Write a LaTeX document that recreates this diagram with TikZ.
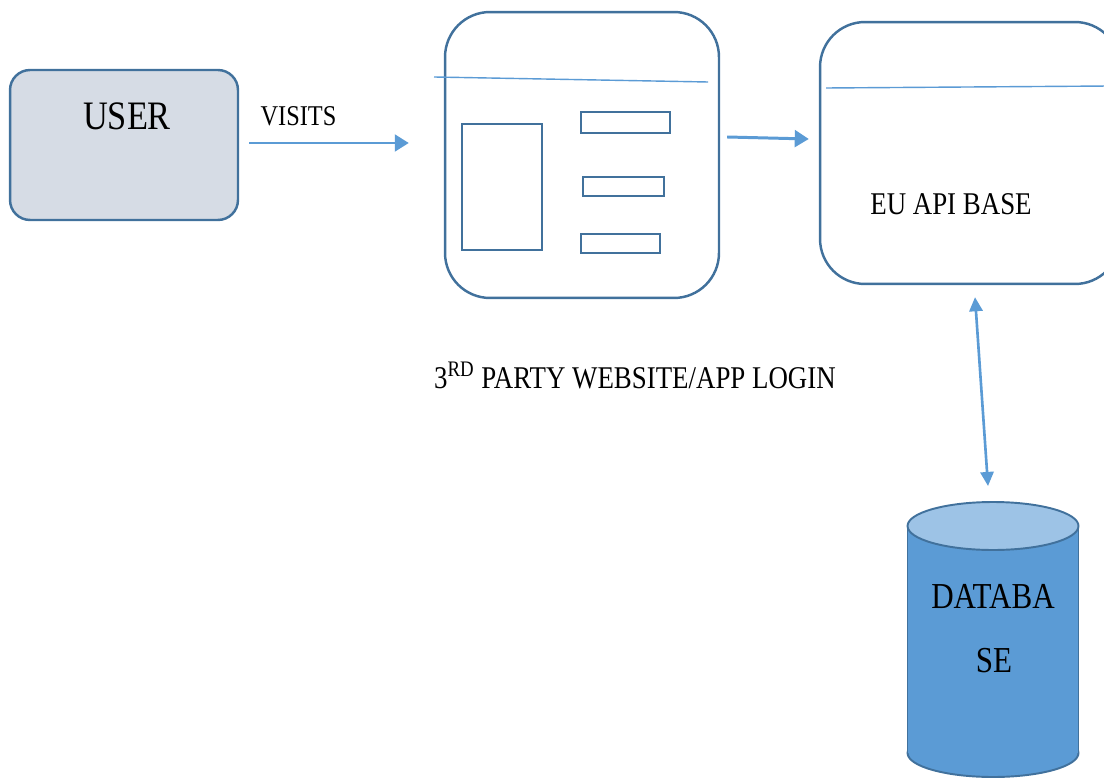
\documentclass[tikz,border=0pt]{standalone}
\usepackage{fontspec}
\setmainfont{Liberation Serif}
\newfontfamily\condfont[FakeStretch=0.85]{Liberation Serif}
\usetikzlibrary{arrows.meta,calc}
\definecolor{bord}{HTML}{41719C}
\definecolor{arrc}{HTML}{5B9BD5}
\definecolor{userfill}{HTML}{D6DCE5}
\definecolor{dbbody}{HTML}{5B9BD5}
\definecolor{dbtop}{HTML}{9DC3E6}
\tikzset{
  box/.style={draw=bord, line width=1.4pt, rounded corners=#1},
  inrect/.style={draw=bord, line width=1.1pt, inner sep=0pt},
  hline/.style={draw=arrc, line width=0.8pt},
  arr/.style={draw=arrc, line width=1.7pt, -{Triangle[length=8pt,width=9.5pt]}},
  darr/.style={draw=arrc, line width=1.5pt, {Triangle[length=8pt,width=7.5pt]}-{Triangle[length=8pt,width=7.5pt]}},
  lbl/.style={anchor=base, inner sep=0pt, text=black},
}
\newcommand{\fsz}[1]{\condfont\fontsize{#1}{#1}\selectfont}
\begin{document}
\begin{tikzpicture}[x=0.02cm,y=-0.02cm]
\useasboundingbox (0,0) rectangle (1104,780);
\clip (0,0) rectangle (1104,780);
% boxes
\node[box=0.4cm, fill=userfill, minimum width=4.56cm, minimum height=3cm] (user) at (124,145) {};
\node[box=0.9cm, fill=white, minimum width=5.48cm, minimum height=5.72cm] (web) at (582,155) {};
\node[box=0.9cm, fill=white, minimum width=6.0cm, minimum height=5.24cm] (api) at (970,153) {};
% header lines
\coordinate (wl1) at (434,77);
\coordinate (wl2) at (708,82);
\draw[hline] (wl1) -- (wl2);
\coordinate (al1) at (826,88);
\coordinate (al2) at (1110,86);
\draw[hline] (al1) -- (al2);
% inner rects of website
\node[inrect, minimum width=1.6cm, minimum height=2.52cm] (rt) at (502,187) {};
\node[inrect, minimum width=1.78cm, minimum height=0.42cm] (r1) at (625.5,122.5) {};
\node[inrect, minimum width=1.62cm, minimum height=0.38cm] (r2) at (623.5,186.5) {};
\node[inrect, minimum width=1.58cm, minimum height=0.38cm] (r3) at (620.5,243.5) {};
% labels
\node[lbl, font=\fsz{23}] (usert) at (127,130) {USER};
\node[lbl, font=\fsz{16.3}] (visits) at (298.5,125.5) {VISITS};
\node[lbl, font=\fsz{18}] (apit) at (951,214.5) {EU API BASE};
\node[lbl, font=\fsz{18}] (webt) at (635,388) {3\textsuperscript{RD} PARTY WEBSITE/APP LOGIN};
% database cylinder
\coordinate (dbc) at (993,526);
\fill[dbbody] (993,753) ellipse [x radius=1.71cm, y radius=0.48cm];
\draw[bord, line width=1.1pt] (993,753) ellipse [x radius=1.71cm, y radius=0.48cm];
\fill[dbbody] (907.5,526) rectangle (1078.5,753);
\draw[bord, line width=1.1pt] (907.5,526) -- (907.5,753);
\draw[bord, line width=1.1pt] (1078.5,526) -- (1078.5,753);
\draw[bord, line width=1.1pt, fill=dbtop] (dbc) ellipse [x radius=1.71cm, y radius=0.48cm];
\coordinate (dbtopc) at (993,502);
\node[lbl, font=\fsz{20.8}] (db1) at (993,608) {DATABA};
\node[lbl, font=\fsz{20.8}] (db2) at (994,672) {SE};
% connectors
\draw[arr, shorten <=0.2cm, shorten >=0.7cm] ($(user.east)+(0,-2)$) -- ($(user.east -| web.west)+(0,-2)$);
\draw[arr] ($(web.east)+(7,-18)$) -- ($(api.west)+(-10,-14)$);
\draw[darr] ($(api.south)+(5,12)$) -- ($(dbtopc)+(-5,-16)$);
\end{tikzpicture}
\end{document}
